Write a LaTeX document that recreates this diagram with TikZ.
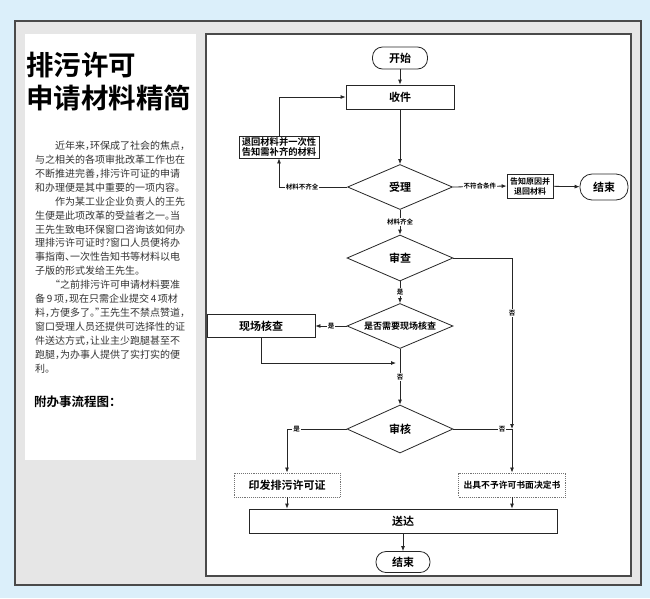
\documentclass[tikz,border=0pt]{standalone}
\usepackage{fontspec}
\newfontfamily\cjk{Noto Sans CJK SC}[BoldFont={Noto Sans CJK SC Bold}]
\newfontfamily\cjkbody{Noto Sans CJK SC}[RawFeature=+halt]
\usepackage{xcolor}
\definecolor{SkyBg}{HTML}{DBEFFA}
\definecolor{PanelGray}{HTML}{E6E6E6}
\definecolor{FrameInk}{HTML}{4A4A4A}
\definecolor{BodyInk}{HTML}{333333}
\usepackage{tikz}
\usetikzlibrary{arrows.meta,shapes.geometric}
\XeTeXlinebreaklocale "zh"
\XeTeXlinebreakskip=0pt plus 1pt minus 0.5pt
\newcommand{\bodyline}[1]{\makebox[150pt][s]{#1}}

\begin{document}
\begin{tikzpicture}[
  x=1pt, y=-1pt,
  font=\cjk\bfseries\fontsize{11}{13}\selectfont,
  term/.style={draw=black!85, line width=0.8pt, rounded corners=10pt, inner sep=1pt},
  proc/.style={draw=black!85, line width=0.8pt, align=center, inner sep=1pt},
  softbox/.style={draw=black!55, densely dotted, line width=0.9pt, align=center, inner sep=1pt},
  dec/.style={draw=black!85, line width=0.8pt, diamond, aspect=2.3, inner sep=0pt,
              minimum width=106pt, minimum height=46pt},
  lab/.style={fill=white, inner sep=1pt, font=\cjk\bfseries\fontsize{6.5}{7}\selectfont},
  arr/.style={-{Latex[length=5pt,width=4pt]}, line width=0.8pt, draw=black!85}
]
  \useasboundingbox (0,0) rectangle (650,598);
  % page and panels
  \fill[SkyBg] (0,0) rectangle (650,598);
  \draw[FrameInk, line width=1.2pt, fill=PanelGray] (15,21) rectangle (641,585);
  \fill[white] (25,34) rectangle (196,460);
  \draw[FrameInk, line width=1.2pt, fill=white] (206,34) rectangle (631,576);

  % article column
  \node[anchor=north west, align=left, inner sep=0pt,
        font=\cjk\bfseries\fontsize{27.5}{33}\selectfont] (headline) at (26,52)
    {排污许可\\申请材料精简};
  \node[anchor=north west, align=left, inner sep=0pt, text=BodyInk,
        font=\cjkbody\fontsize{10}{13.9}\selectfont] (body) at (35,141)
    {\bodyline{\hspace{20pt}近年来，环保成了社会的焦点，}\\
     \bodyline{与之相关的各项审批改革工作也在}\\
     \bodyline{不断推进完善，排污许可证的申请}\\
     \bodyline{和办理便是其中重要的一项内容。}\\
     \bodyline{\hspace{20pt}作为某工业企业负责人的王先}\\
     \bodyline{生便是此项改革的受益者之一。当}\\
     \bodyline{王先生致电环保窗口咨询该如何办}\\
     \bodyline{理排污许可证时？窗口人员便将办}\\
     \bodyline{事指南、一次性告知书等材料以电}\\
     子版的形式发给王先生。\\
     \bodyline{\hspace{20pt}“之前排污许可申请材料要准}\\
     \bodyline{备\,9\,项，现在只需企业提交\,4\,项材}\\
     \bodyline{料，方便多了。”王先生不禁点赞道，}\\
     \bodyline{窗口受理人员还提供可选择性的证}\\
     \bodyline{件送达方式，让业主少跑腿甚至不}\\
     \bodyline{跑腿，为办事人提供了实打实的便}\\
     利。};
  \node[anchor=west, inner sep=0pt, font=\cjk\bfseries\fontsize{12.5}{14}\selectfont]
    (caption) at (34,402) {附办事流程图：};

  % flowchart
  \node[term, minimum width=55pt, minimum height=22pt] (start) at (400,58) {开始};
  \node[proc, minimum width=108pt, minimum height=24pt] (shoujian) at (400,97) {收件};
  \node[dec, minimum width=105pt, minimum height=45pt] (shouli) at (400,187) {受理};
  \node[proc, minimum width=80pt, minimum height=22pt,
        font=\cjk\bfseries\fontsize{9.3}{10.5}\selectfont] (tuihui) at (279,147)
    {退回材料并一次性\\告知需补齐的材料};
  \node[proc, minimum width=46pt, minimum height=24pt,
        font=\cjk\bfseries\fontsize{8}{10}\selectfont] (gaozhi) at (530,186)
    {告知原因并\\退回材料};
  \node[term, minimum width=48pt, minimum height=26pt, rounded corners=12pt] (end1) at (604,187) {结束};
  \node[dec] (shencha) at (400,258) {审查};
  \node[dec, minimum height=45pt, font=\cjk\bfseries\fontsize{9}{10}\selectfont]
    (xuyao) at (400,326) {是否需要现场核查};
  \node[proc, minimum width=108pt, minimum height=23pt] (xianchang) at (261,326) {现场核查};
  \node[dec, minimum height=48pt] (shenhe) at (400,429) {审核};
  \node[softbox, minimum width=106pt, minimum height=24pt] (yinfa) at (287,485) {印发排污许可证};
  \node[softbox, minimum width=107pt, minimum height=24pt,
        font=\cjk\bfseries\fontsize{8.8}{10}\selectfont] (chuju) at (512,485)
    {出具不予许可书面决定书};
  \node[proc, minimum width=308pt, minimum height=24pt] (songda) at (403,521) {送达};
  \node[term, minimum width=54pt, minimum height=21pt] (end2) at (403,562) {结束};

  \coordinate (back) at (396,363);
  \coordinate (join) at (512,429);

  \draw[arr] (start) -- (shoujian);
  \draw[arr] (shoujian) -- (shouli);
  \draw[arr] (shouli.west) -| node[lab, pos=0.33] {材料不齐全} (tuihui.south);
  \draw[arr] (tuihui.north) |- (shoujian.west);
  \draw[arr] (shouli.east) -- node[lab] {不符合条件} (gaozhi.west);
  \draw[arr] (gaozhi) -- (end1);
  \draw[arr] (shouli) -- node[lab] {材料齐全} (shencha);
  \draw[arr] (shencha) -- node[lab] {是} (xuyao);
  \draw[arr] (xuyao.west) -- node[lab] {是} (xianchang.east);
  \draw[arr] (xianchang.south) |- (back);
  \draw[arr] (xuyao) -- node[lab] {否} (shenhe);
  \draw[arr] (shencha.east) -| node[lab, pos=0.66] {否} (join);
  \draw[line width=0.8pt, draw=black!85] (shenhe.east) -- node[lab, pos=0.83] {否} (join);
  \draw[arr] (join) -- (chuju);
  \draw[arr] (shenhe.west) -| node[lab, pos=0.42] {是} (yinfa.north);
  \draw[arr] (yinfa.south) -- (yinfa.south |- songda.north);
  \draw[arr] (chuju.south) -- (chuju.south |- songda.north);
  \draw[arr] (songda) -- (end2);
\end{tikzpicture}
\end{document}
